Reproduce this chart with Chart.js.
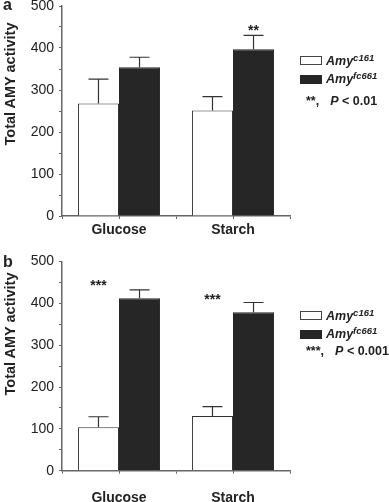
<!DOCTYPE html>
<html>
<head>
<meta charset="utf-8">
<script src="https://cdn.jsdelivr.net/npm/chart.js@4.4.0/dist/chart.umd.min.js"></script>
<style>
    html, body { margin: 0; padding: 0; background: #fff; }
    body { width: 389px; height: 502px; position: relative; overflow: hidden;
           font-family: "Liberation Sans", Arial, sans-serif; color: #222; }
    .panel { position: absolute; left: 0; width: 389px; }
    #panelA { top: 0; height: 250px; }
    #panelB { top: 250px; height: 252px; }
    .letter { position: absolute; left: 3px; font-weight: bold; font-size: 16px; line-height: 16px; }
    .ytitle { position: absolute; font-weight: bold; font-size: 14.5px; line-height: 16px; white-space: nowrap;
              transform: translate(-50%, -50%) rotate(-90deg); }
    .box { position: absolute; left: 300px; width: 20px; height: 7px; border: 1px solid #444; }
    .box.dark { background: #262626; border-color: #262626; }
    .lab { position: absolute; left: 326px; font-size: 12.5px; line-height: 14px; white-space: nowrap;
           transform: translateY(-50%); font-weight: bold; font-style: italic; }
    .lab sup { font-size: 9.5px; vertical-align: 4px; line-height: 0; }
    .sig { position: absolute; left: 306px; font-size: 12.5px; line-height: 14px; white-space: nowrap;
           transform: translateY(-50%); font-weight: bold; }
    .sig i { margin-left: 11px; }
</style>
</head>
<body>
<div class="panel" id="panelA"><canvas id="chartA"></canvas></div>
<div class="panel" id="panelB"><canvas id="chartB"></canvas></div>

<div class="letter" style="top:-3px">a</div>
<div class="letter" style="top:254px">b</div>
<div class="ytitle" style="left:9.5px; top:84px">Total AMY activity</div>
<div class="ytitle" style="left:9.5px; top:334px">Total AMY activity</div>

<div class="box" style="top:56px"></div>
<div class="lab" style="top:60.5px">Amy<sup>c161</sup></div>
<div class="box dark" style="top:75px"></div>
<div class="lab" style="top:79px">Amy<sup>fc661</sup></div>
<div class="sig" style="top:101px">**,<i>P</i> &lt; 0.01</div>

<div class="box" style="top:311px"></div>
<div class="lab" style="top:315.5px">Amy<sup>c161</sup></div>
<div class="box dark" style="top:330px"></div>
<div class="lab" style="top:334px">Amy<sup>fc661</sup></div>
<div class="sig" style="top:351px">***,<i>P</i> &lt; 0.001</div>

<script>
const categories = ['Glucose', 'Starch'];
const seriesNames = ['Amy c161', 'Amy fc661'];

// panel a
const aWhite = [268, 251];
const aWhiteErr = [326, 284];
const aBlack = [354, 397];
const aBlackErr = [378, 430];
const aWhiteStars = ['', ''];
const aBlackStars = ['', '**'];
const aStarLevel = [0, 447];

// panel b
const bWhite = [104, 131];
const bWhiteErr = [129, 153];
const bBlack = [412, 379];
const bBlackErr = [432, 402];
const bWhiteStars = ['***', '***'];
const bBlackStars = ['', ''];
const bStarLevel = [448, 416];

const FONT = '"Liberation Sans", Arial, sans-serif';
const AXIS = '#666';
const INK = '#222';

// error bars (upward only), significance stars, and tick marks at category centres
const extras = {
    id: 'extras',
    afterDatasetsDraw(chart) {
        const { ctx, scales: { x, y } } = chart;
        ctx.save();
        ctx.strokeStyle = '#333';
        ctx.lineWidth = 1.2;
        chart.data.datasets.forEach((ds, i) => {
            const meta = chart.getDatasetMeta(i);
            meta.data.forEach((bar, j) => {
                const top = y.getPixelForValue(ds.errTop[j]);
                ctx.beginPath();
                ctx.moveTo(bar.x, bar.y);
                ctx.lineTo(bar.x, top);
                ctx.moveTo(bar.x - 10, top);
                ctx.lineTo(bar.x + 10, top);
                ctx.stroke();
                if (ds.stars[j]) {
                    ctx.fillStyle = INK;
                    ctx.font = 'bold 14px ' + FONT;
                    ctx.textAlign = 'center';
                    ctx.textBaseline = 'alphabetic';
                    ctx.fillText(ds.stars[j], bar.x, y.getPixelForValue(chart.options.starLevel[j]) + 7);
                }
            });
        });
        ctx.strokeStyle = AXIS;
        ctx.lineWidth = 1;
        categories.forEach((c, j) => {
            const px = Math.round(x.getPixelForValue(j)) + 0.5;
            ctx.beginPath();
            ctx.moveTo(px, y.bottom);
            ctx.lineTo(px, y.bottom + 3);
            ctx.stroke();
        });
        ctx.restore();
    }
};

function makeChart(id, white, whiteErr, black, blackErr, whiteStars, blackStars, starLevel, top, xHeight, labelPad) {
    return new Chart(document.getElementById(id), {
        type: 'bar',
        data: {
            labels: categories,
            datasets: [
                { label: seriesNames[0], data: white, errTop: whiteErr, stars: whiteStars,
                  backgroundColor: '#fff', borderColor: '#333', borderWidth: 1 },
                { label: seriesNames[1], data: black, errTop: blackErr, stars: blackStars,
                  backgroundColor: '#262626', borderColor: '#262626', borderWidth: 1 }
            ]
        },
        options: {
            starLevel: starLevel,
            responsive: true,
            maintainAspectRatio: false,
            animation: false,
            layout: { padding: { left: 0, top: top, right: 99, bottom: 0 } },
            categoryPercentage: 0.72,
            barPercentage: 1,
            plugins: { legend: { display: false }, tooltip: { enabled: false } },
            scales: {
                x: {
                    offset: true,
                    grid: { offset: true, drawOnChartArea: false, tickLength: 3, color: AXIS },
                    border: { color: AXIS, width: 1.5 },
                    ticks: { color: INK, padding: labelPad, font: { family: FONT, size: 14, weight: 'bold' } },
                    afterFit(s) { s.height = xHeight; s.paddingLeft = 0; s.paddingRight = 0; }
                },
                y: {
                    min: 0,
                    max: 500,
                    ticks: {
                        stepSize: 50,
                        autoSkip: false,
                        padding: 5,
                        color: INK,
                        font: { family: FONT, size: 14 },
                        callback: v => (v % 100 === 0 ? v : '')
                    },
                    grid: { drawOnChartArea: false, tickLength: 3, color: AXIS },
                    border: { color: AXIS, width: 1.5 },
                    afterFit(s) { s.width = 62; s.paddingTop = 0; s.paddingBottom = 0; }
                }
            }
        },
        plugins: [extras]
    });
}

makeChart('chartA', aWhite, aWhiteErr, aBlack, aBlackErr, aWhiteStars, aBlackStars, aStarLevel, 6, 34, 3);
makeChart('chartB', bWhite, bWhiteErr, bBlack, bBlackErr, bWhiteStars, bBlackStars, bStarLevel, 11.5, 31.3, 16);
</script>
</body>
</html>
